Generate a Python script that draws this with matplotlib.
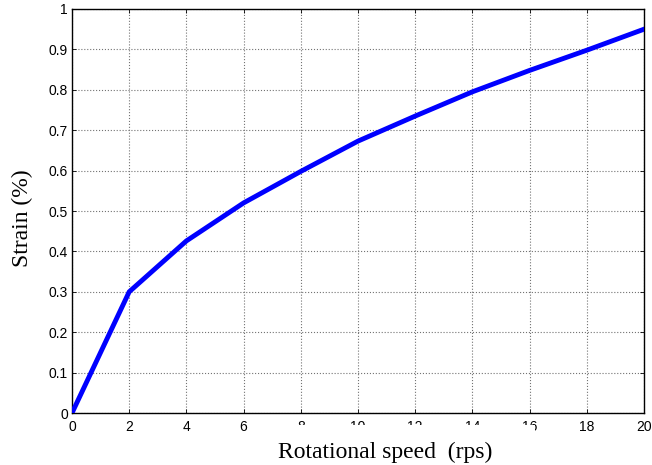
import numpy as np
import matplotlib
matplotlib.use("Agg")
import matplotlib.pyplot as plt
from matplotlib.patches import Rectangle

# data
speed = [0, 2, 4, 6, 8, 10, 12, 14, 16, 18, 20]
strain = [0, 0.300, 0.426, 0.520, 0.598, 0.673, 0.735, 0.795, 0.848, 0.898, 0.950]
xticks = np.arange(0, 21, 2)
yticks = np.round(np.arange(0, 1.01, 0.1), 1)
ytick_labels = ["0"] + ["%.1f" % v for v in yticks[1:-1]] + ["1"]

fig = plt.figure(figsize=(6.52, 4.65), dpi=100)
ax = fig.add_axes([72 / 652, 52 / 465, 572 / 652, 404 / 465])

ax.plot(speed, strain, color=(0, 0, 1), linewidth=3.5, solid_joinstyle="miter", zorder=3)

ax.set_xlim(0, 20)
ax.set_ylim(0, 1)
ax.set_xticks(xticks)
ax.set_yticks(yticks)
ax.set_yticklabels(ytick_labels)
ax.grid(True, color="0.45", linestyle=":", linewidth=0.8)

ax.tick_params(direction="in", top=True, right=True, length=3, width=0.6,
               labelsize=10)
ax.tick_params(axis="x", pad=5)
ax.tick_params(axis="y", pad=3)
for lbl in ax.get_xticklabels() + ax.get_yticklabels():
    lbl.set_family("Liberation Sans")
for sp in ax.spines.values():
    sp.set_linewidth(1.0)

# x label with its white background box (covers part of the tick labels)
ax.add_patch(Rectangle((0.372, -0.16), 0.437, 0.13, transform=ax.transAxes,
                       facecolor="white", edgecolor="none", clip_on=False, zorder=5))
ax.text(0.548, -0.111, "Rotational speed  (rps)", transform=ax.transAxes,
        ha="center", va="baseline", fontsize=17, family="Liberation Serif", zorder=6)

ax.set_ylabel("Strain (%)", fontsize=17, family="Liberation Serif")
ax.yaxis.set_label_coords(-0.068, 0.483)

fig.savefig("out.png", dpi=100)
